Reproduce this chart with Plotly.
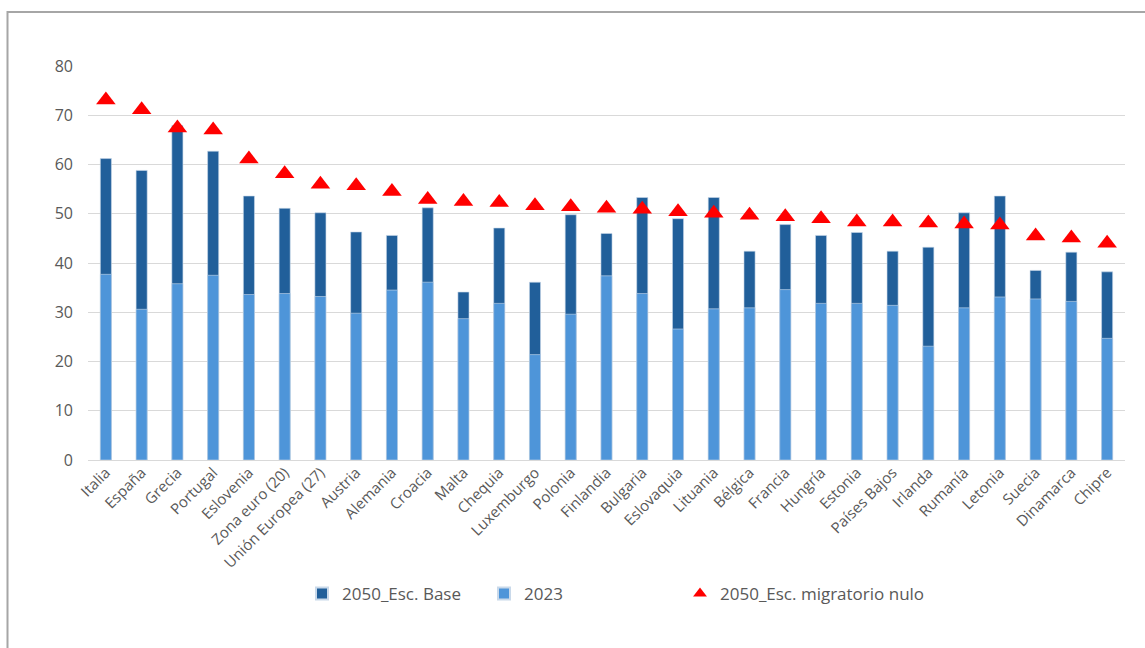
import plotly.graph_objects as go

# Countries, ordered by the zero-migration 2050 scenario
paises = ["Italia", "España", "Grecia", "Portugal", "Eslovenia", "Zona euro (20)",
          "Unión Europea (27)", "Austria", "Alemania", "Croacia", "Malta", "Chequia",
          "Luxemburgo", "Polonia", "Finlandia", "Bulgaria", "Eslovaquia", "Lituania",
          "Bélgica", "Francia", "Hungría", "Estonia", "Países Bajos", "Irlanda",
          "Rumanía", "Letonia", "Suecia", "Dinamarca", "Chipre"]

esc_base_2050 = [61.2, 58.8, 67.9, 62.7, 53.6, 51.1, 50.2, 46.3, 45.6, 51.2, 34.1, 47.1,
                 36.1, 49.8, 46.0, 53.3, 49.0, 53.3, 42.4, 47.8, 45.6, 46.2, 42.4, 43.2,
                 50.2, 53.6, 38.5, 42.2, 38.2]

valores_2023 = [37.7, 30.6, 35.8, 37.5, 33.6, 33.8, 33.2, 29.8, 34.5, 36.1, 28.7, 31.8,
                21.4, 29.6, 37.4, 33.8, 26.6, 30.7, 30.9, 34.6, 31.8, 31.8, 31.4, 23.1,
                30.9, 33.1, 32.7, 32.2, 24.7]

migratorio_nulo_2050 = [73.1, 71.1, 67.4, 67.0, 61.1, 58.1, 56.0, 55.7, 54.5, 52.9, 52.5, 52.3,
                        51.6, 51.4, 51.1, 50.9, 50.4, 50.1, 49.7, 49.4, 49.0, 48.3, 48.3, 48.1,
                        47.9, 47.7, 45.5, 45.1, 44.0]

y_ticks = [0, 10, 20, 30, 40, 50, 60, 70, 80]

OSCURO = "#215F9A"
CLARO = "#4E95D9"
ROJO = "#FF0000"
GRIS_TEXTO = "#595959"

# Plot area in pixels: x 88..1125, y 66..460
L, R, T, B = 88, 20, 66, 188
W, H = 1145, 648
pw, ph = W - L - R, H - T - B


def px_x(p):
    return (p - L) / pw


def px_y(p):
    return (H - B - p) / ph


fig = go.Figure()

fig.add_trace(go.Bar(
    x=paises, y=esc_base_2050, name="2050_Esc. Base",
    marker=dict(color=OSCURO, line=dict(color="#C9D9EA", width=0.6)),
    width=0.31, legend="legend",
))
fig.add_trace(go.Bar(
    x=paises, y=valores_2023, name="2023",
    marker=dict(color=CLARO, line=dict(color="#C9D9EA", width=0.6)),
    width=0.31, legend="legend2",
))
fig.add_trace(go.Scatter(
    x=paises, y=migratorio_nulo_2050, name="2050_Esc. migratorio nulo",
    mode="markers",
    marker=dict(symbol="triangle-up", size=17, color=ROJO),
    legend="legend3",
))

legend_font = dict(size=17, family="Open Sans, Liberation Sans, sans-serif", color=GRIS_TEXTO)


def leyenda(x_px):
    return dict(
        orientation="h", x=px_x(x_px), xanchor="left", y=px_y(594), yanchor="middle",
        font=legend_font, bgcolor="rgba(0,0,0,0)", itemsizing="constant",
    )


fig.update_layout(
    width=W, height=H,
    margin=dict(l=L, r=R, t=T, b=B),
    paper_bgcolor="white", plot_bgcolor="white",
    barmode="overlay",
    font=dict(family="Open Sans, Liberation Sans, sans-serif", color=GRIS_TEXTO),
    showlegend=True,
    legend=leyenda(302),
    legend2=leyenda(484),
    legend3=leyenda(680),
    xaxis=dict(
        tickangle=-45,
        tickfont=dict(size=15, color=GRIS_TEXTO),
        showgrid=False, showline=False, ticks="",
        range=[-0.5, len(paises) - 0.5],
    ),
    yaxis=dict(
        range=[0, 80], tickvals=y_ticks,
        tickfont=dict(size=16, color=GRIS_TEXTO),
        showgrid=True, gridcolor="#D9D9D9", gridwidth=1.3,
        zeroline=True, zerolinecolor="#D9D9D9", zerolinewidth=1.3,
        showline=False, ticks="", ticklabelstandoff=14,
    ),
    shapes=[dict(
        type="rect", xref="paper", yref="paper",
        x0=px_x(7.5), x1=px_x(1220), y0=px_y(700), y1=px_y(12),
        line=dict(color="#A6A6A6", width=2), fillcolor="rgba(0,0,0,0)",
        layer="below",
    )],
)

fig.write_html("out.html")
